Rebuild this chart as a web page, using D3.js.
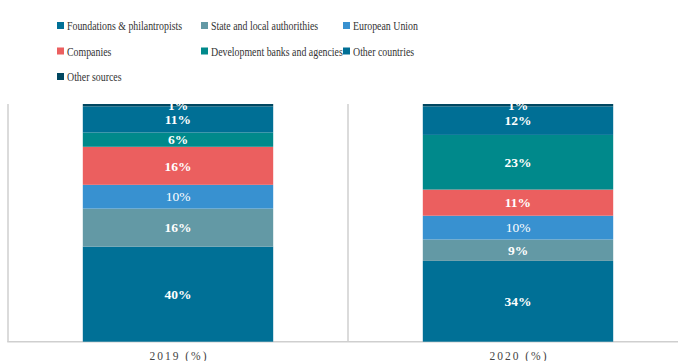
<!DOCTYPE html>
<html>
<head>
<meta charset="utf-8">
<script src="https://cdn.jsdelivr.net/npm/d3@7"></script>
</head>
<body style="margin:0">
<svg id="chart" width="678" height="361"></svg>
<script>
// Funding sources, share of total (%)
const years = ["2019", "2020"];
const yearLabels = ["2019 (%)", "2020 (%)"];
const seriesNames = [
  "Foundations & philantropists",
  "State and local authorithies",
  "European Union",
  "Companies",
  "Development banks and agencies",
  "Other countries",
  "Other sources"
];
const seriesColors = ["#007096", "#6399a5", "#3891d0", "#eb5f5f", "#00898b", "#006f95", "#004760"];
const values2019 = [40, 16, 10, 16, 6, 11, 1];
const values2020 = [34, 9, 10, 11, 23, 12, 1];

const FONT = "Liberation Serif";

const table = years.map((yr, i) => {
  const vals = i === 0 ? values2019 : values2020;
  const row = { year: yr, label: yearLabels[i] };
  seriesNames.forEach((s, j) => row[s] = vals[j]);
  return row;
});

const svg = d3.select("#chart");
const plot = { left: 8, right: 688, top: 104, bottom: 341.7 };

const x = d3.scaleBand()
  .domain(years)
  .range([plot.left, plot.right])
  .paddingInner(0.44)
  .paddingOuter(0.22);

const y = d3.scaleLinear().domain([0, 100]).range([plot.bottom, plot.top]);

const stack = d3.stack().keys(seriesNames)(table);

svg.append("defs").append("clipPath").attr("id", "plotClip")
  .append("rect")
  .attr("x", 0).attr("y", plot.top)
  .attr("width", 678).attr("height", plot.bottom - plot.top + 1);

// Legend: three columns, narrow old-style serif look via horizontal squeeze
const legendCols = [57, 201, 343];
const legendRows = [25.5, 51, 76.5];
const legendSqueeze = 0.76;
const legend = svg.append("g");
seriesNames.forEach((name, i) => {
  const g = legend.append("g")
    .attr("transform", `translate(${legendCols[i % 3]},${legendRows[Math.floor(i / 3)]})`);
  g.append("rect").attr("x", 0).attr("y", -3.5).attr("width", 7).attr("height", 7)
    .attr("fill", seriesColors[i]);
  g.append("text")
    .attr("transform", `translate(10,4.5) scale(${legendSqueeze},1)`)
    .attr("font-family", FONT)
    .attr("font-size", 13)
    .attr("fill", "#333")
    .text(name);
});

// Band separators and left axis line
const axisG = svg.append("g");
const step = x.step();
const boundaries = [plot.left].concat(years.slice(1).map(d => x(d) - step * x.paddingInner() / 2));
axisG.selectAll("line.sep").data(boundaries).join("line")
  .attr("x1", d => d).attr("x2", d => d)
  .attr("y1", plot.top).attr("y2", plot.bottom)
  .attr("stroke", "#cfcfcf").attr("stroke-width", 1.5);

// Stacked bars
const barsG = svg.append("g").attr("clip-path", "url(#plotClip)");
stack.forEach((layer, j) => {
  barsG.selectAll(null).data(layer).join("rect")
    .attr("x", d => x(d.data.year))
    .attr("width", x.bandwidth())
    .attr("y", d => y(d[1]))
    .attr("height", d => y(d[0]) - y(d[1]))
    .attr("fill", seriesColors[j]);
});

// Value labels inside each segment
stack.forEach((layer, j) => {
  barsG.selectAll(null).data(layer).join("text")
    .attr("x", d => x(d.data.year) + x.bandwidth() / 2)
    .attr("y", d => (y(d[0]) + y(d[1])) / 2)
    .attr("dy", "0.35em")
    .attr("text-anchor", "middle")
    .attr("font-family", FONT)
    .attr("font-size", 13.5)
    .attr("font-weight", seriesNames[j] === "European Union" ? "normal" : "bold")
    .attr("fill", "#fff")
    .text(d => (d[1] - d[0]) + "%");
});

// Bottom axis line
axisG.append("line")
  .attr("x1", plot.left - 0.75).attr("x2", 678)
  .attr("y1", plot.bottom).attr("y2", plot.bottom)
  .attr("stroke", "#cfcfcf").attr("stroke-width", 1.5);

// Category labels, spaced out
svg.append("g").selectAll("text").data(table).join("text")
  .attr("x", d => x(d.year) + x.bandwidth() / 2 - 28.5)
  .attr("y", 360)
  .attr("font-family", FONT)
  .attr("font-size", 11.5)
  .attr("textLength", 57)
  .attr("lengthAdjust", "spacing")
  .attr("fill", "#444")
  .text(d => d.label);
</script>
</body>
</html>
